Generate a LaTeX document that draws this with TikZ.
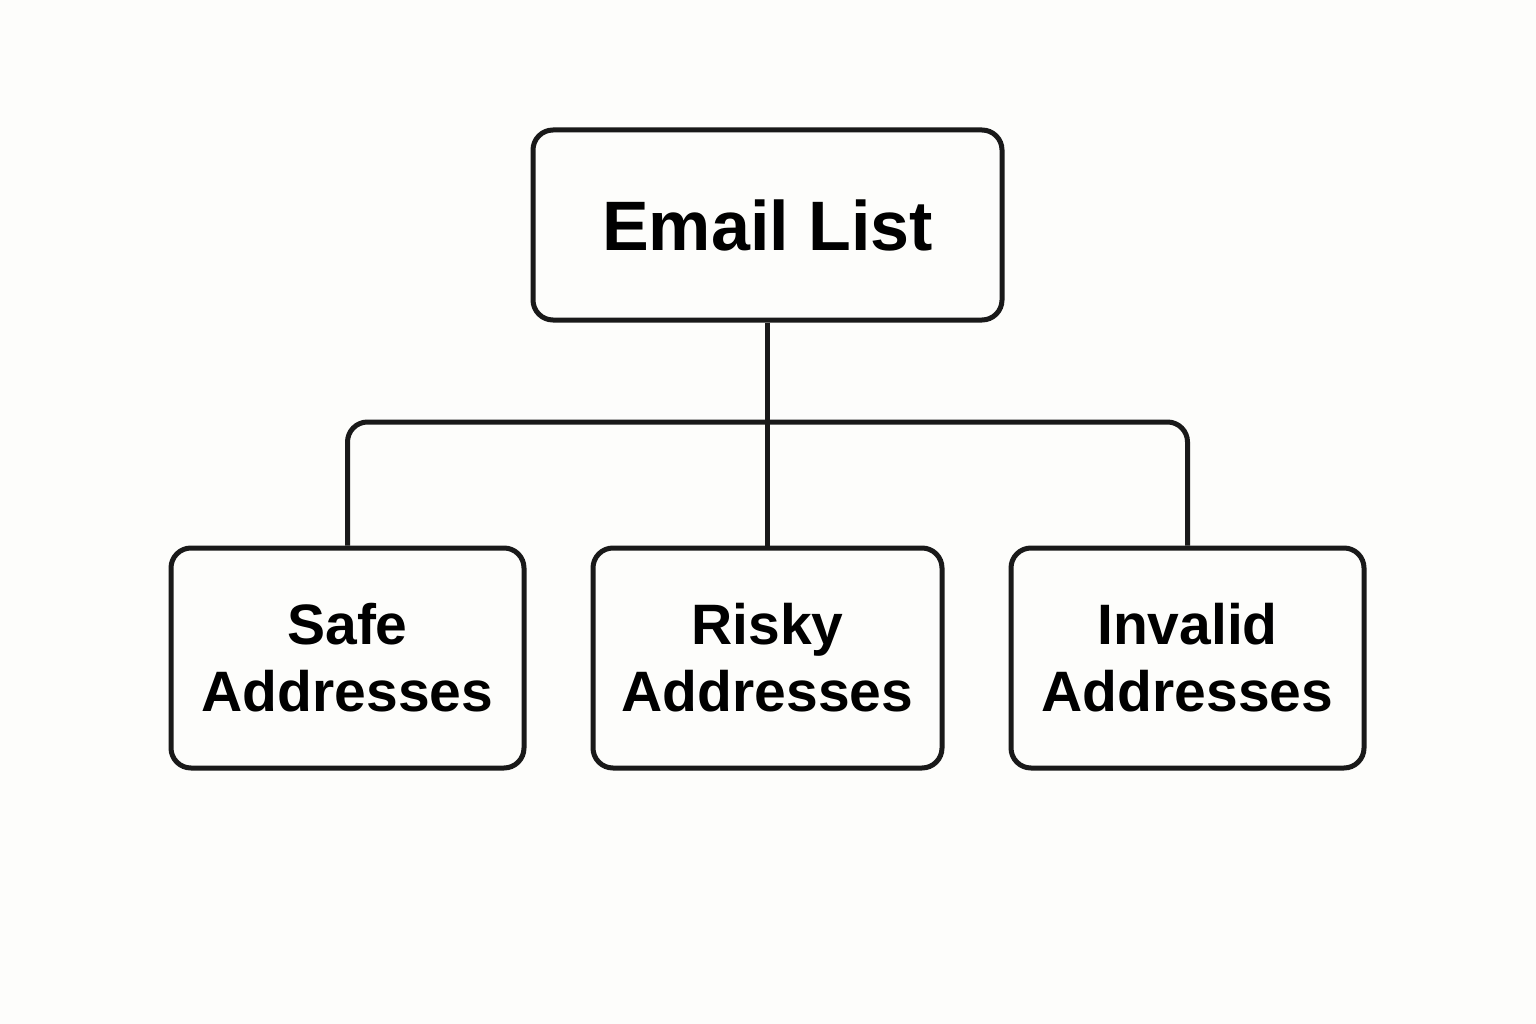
\documentclass[tikz,border=0pt]{standalone}
\usepackage{fontspec}
\setmainfont{Liberation Sans}
\begin{document}
\begin{tikzpicture}[x=1pt,y=-1pt,
  box/.style={draw=black!90,line width=5pt,rounded corners=20pt,inner sep=0pt,font=\bfseries\fontsize{57}{67}\selectfont,align=center},
  conn/.style={draw=black!90,line width=5pt,rounded corners=20pt}]
\definecolor{bg}{RGB}{253,253,251}
\useasboundingbox[fill=bg] (0,0) rectangle (1536,1024);
\node[box,minimum width=469pt,minimum height=190pt,font=\bfseries\fontsize{70}{80}\selectfont] (top) at (767.5,225) {Email List};
\node[box,minimum width=353pt,minimum height=220pt] (safe) at (347.5,658) {Safe\\Addresses};
\node[box,minimum width=349pt,minimum height=220pt] (risky) at (767.5,658) {Risky\\Addresses};
\node[box,minimum width=353pt,minimum height=220pt] (inv) at (1187.5,658) {Invalid\\Addresses};
\coordinate (j) at (767.5,422);
\draw[conn] (top.south) -- (risky.north);
\draw[conn] (safe.north) -- (safe.north |- j) -- (inv.north |- j) -- (inv.north);
\end{tikzpicture}
\end{document}
